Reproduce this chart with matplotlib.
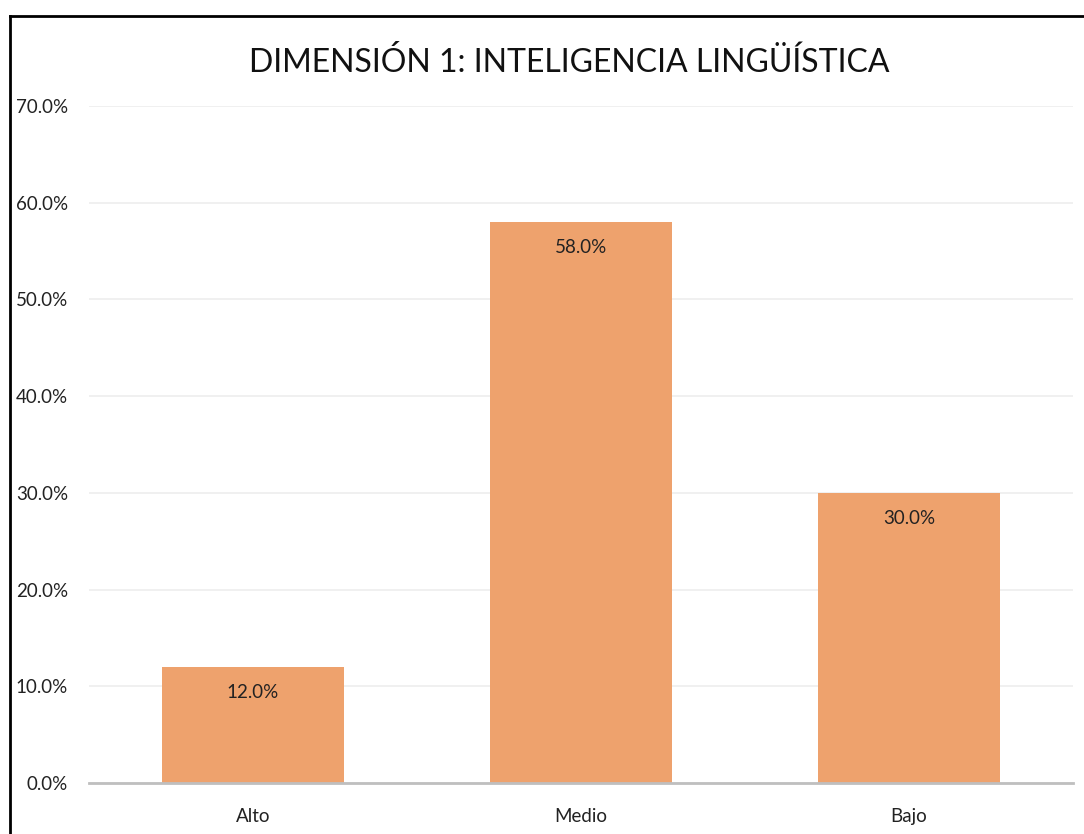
import numpy as np
import matplotlib.pyplot as plt
from matplotlib.ticker import PercentFormatter
from matplotlib.lines import Line2D

# datos
categorias = ["Alto", "Medio", "Bajo"]
porcentajes = [0.12, 0.58, 0.30]
titulo = "DIMENSIÓN 1: INTELIGENCIA LINGÜÍSTICA"

plt.rcParams["font.family"] = ["Lato", "DejaVu Sans"]

fig = plt.figure(figsize=(10.84, 8.34), dpi=100)
ax = fig.add_axes([89/1084, 1 - 783/834, (1073 - 89)/1084, (783 - 106)/834])

x = np.arange(len(categorias))
bars = ax.bar(x, porcentajes, width=0.555, color="#EEA26D", zorder=2)

# etiquetas de datos dentro de la barra
for b, v in zip(bars, porcentajes):
    ax.annotate(f"{v*100:.1f}%", (b.get_x() + b.get_width()/2, v),
                xytext=(0, -12), textcoords="offset points",
                ha="center", va="top", fontsize=13.5, color="#222222")

ax.set_xlim(-0.5, len(categorias) - 0.5)
ax.set_ylim(0, 0.7)
ax.set_yticks(np.arange(0, 0.71, 0.1))
ax.yaxis.set_major_formatter(PercentFormatter(1.0, decimals=1))
ax.set_xticks(x)
ax.set_xticklabels(categorias)
ax.tick_params(axis="both", length=0, labelsize=13.5, labelcolor="#222222")
ax.tick_params(axis="y", pad=15)
ax.tick_params(axis="x", pad=18)

ax.grid(axis="y", color="#EFEFEF", linewidth=1.3, zorder=0)
for s in ["top", "right", "left"]:
    ax.spines[s].set_visible(False)
ax.spines["bottom"].set_color("#BFBFBF")
ax.spines["bottom"].set_linewidth(2)
ax.spines["bottom"].set_zorder(3)

fig.text(569/1084, 1 - 62/834, titulo, ha="center", va="center", fontsize=23, color="#111111")

# marco del gráfico (solo se ven los bordes superior e izquierdo)
fig.add_artist(Line2D([10/1084, 10/1084], [0, 1 - 16/834], transform=fig.transFigure, color="black", linewidth=2))
fig.add_artist(Line2D([10/1084, 1], [1 - 16/834, 1 - 16/834], transform=fig.transFigure, color="black", linewidth=2))

fig.savefig("out.png", dpi=100)
